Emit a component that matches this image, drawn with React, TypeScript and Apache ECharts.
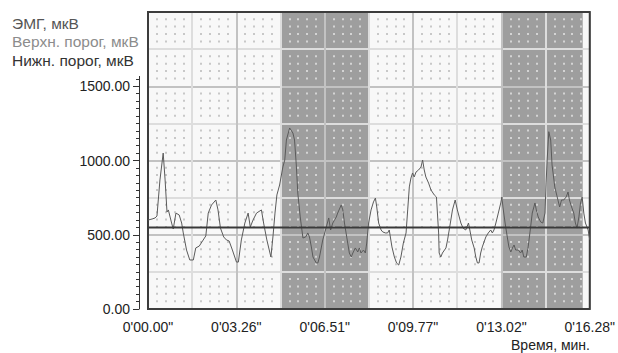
import React, { useEffect, useRef } from "react";
import * as echarts from "echarts";

// ---- data ----
const xTickLabels = ['0\'00.00"', '0\'03.26"', '0\'06.51"', '0\'09.77"', '0\'13.02"', '0\'16.28"'];
const xStep = 1.628; // grid column width, seconds
const xMax = 16.28;
const yMax = 2000;
const yLabelStep = 500;
const yGridStep = 250;
const lowerThreshold = 548;
// shaded epochs [start, end] in seconds
const bands: [number, number][] = [
  [4.884, 8.14],
  [13.02, 16.02],
];
const legendTitles = ["ЭМГ, мкВ", "Верхн. порог, мкВ", "Нижн. порог, мкВ"];
const xAxisTitle = "Время, мин.";

// EMG samples: [time s, µV]
const emgPoints: [number, number][] = [
  [0, 599], [0.15, 606], [0.26, 613], [0.33, 626], [0.44, 869], [0.56, 1050], [0.63, 869], [0.7, 653],
  [0.75, 667], [0.87, 579], [0.93, 539], [1.03, 646], [1.15, 633], [1.24, 579], [1.3, 512], [1.42, 397],
  [1.54, 330], [1.67, 330], [1.76, 411], [1.89, 424], [2.01, 458], [2.13, 492], [2.22, 646], [2.34, 700],
  [2.5, 734], [2.58, 667], [2.67, 545], [2.79, 485], [2.89, 465], [2.99, 458], [3.11, 397], [3.26, 316],
  [3.33, 316], [3.44, 465], [3.57, 579], [3.69, 646], [3.77, 552], [3.87, 599], [4.0, 646], [4.18, 667],
  [4.26, 579], [4.38, 465], [4.53, 350], [4.61, 498], [4.68, 646], [4.75, 768], [4.85, 835], [4.97, 956],
  [5.04, 1003], [5.1, 1138], [5.22, 1219], [5.34, 1185], [5.4, 1138], [5.47, 956], [5.52, 781], [5.61, 620],
  [5.71, 478], [5.81, 485], [5.89, 512], [5.95, 485], [6.02, 418], [6.08, 350], [6.2, 310], [6.26, 310],
  [6.32, 350], [6.44, 465], [6.57, 552], [6.66, 613], [6.73, 532], [6.81, 579], [6.94, 620], [6.99, 646],
  [7.12, 700], [7.18, 667], [7.24, 579], [7.3, 512], [7.36, 444], [7.42, 377], [7.49, 350], [7.55, 377],
  [7.64, 411], [7.73, 384], [7.79, 411], [7.85, 377], [7.94, 397], [8.01, 377], [8.06, 444], [8.13, 579],
  [8.22, 667], [8.31, 721], [8.38, 747], [8.43, 687], [8.5, 579], [8.59, 532], [8.65, 519], [8.75, 512],
  [8.83, 512], [8.89, 532], [8.99, 418], [9.08, 350], [9.16, 310], [9.24, 296], [9.32, 350], [9.41, 444],
  [9.51, 512], [9.57, 667], [9.63, 822], [9.69, 882], [9.75, 916], [9.81, 889], [9.88, 923], [9.97, 936],
  [10.06, 956], [10.12, 1003], [10.18, 936], [10.24, 889], [10.34, 848], [10.43, 801], [10.55, 768], [10.63, 754],
  [10.71, 512], [10.73, 377], [10.79, 350], [10.85, 377], [10.98, 411], [11.04, 465], [11.1, 532], [11.16, 599],
  [11.22, 667], [11.32, 734], [11.4, 667], [11.47, 620], [11.53, 579], [11.61, 545], [11.71, 532], [11.81, 579],
  [11.86, 532], [11.93, 465], [12.02, 411], [12.08, 350], [12.14, 310], [12.2, 310], [12.26, 377], [12.32, 418],
  [12.45, 485], [12.54, 512], [12.63, 532], [12.69, 512], [12.75, 532], [12.82, 579], [12.91, 646], [13.0, 714],
  [13.04, 754], [13.08, 687], [13.16, 579], [13.24, 485], [13.3, 418], [13.37, 384], [13.43, 411], [13.49, 431],
  [13.55, 397], [13.65, 397], [13.73, 377], [13.79, 397], [13.85, 350], [13.94, 350], [14.01, 418], [14.1, 552],
  [14.16, 646], [14.26, 714], [14.31, 667], [14.38, 620], [14.47, 586], [14.55, 579], [14.63, 646], [14.67, 849],
  [14.71, 1003], [14.77, 1194], [14.84, 1138], [14.89, 970], [14.96, 869], [14.99, 822], [15.08, 754], [15.17, 687],
  [15.24, 734], [15.32, 734], [15.41, 754], [15.48, 788], [15.53, 734], [15.61, 687], [15.69, 646], [15.75, 579],
  [15.81, 545], [15.88, 620], [15.94, 714], [16.0, 754], [16.06, 646], [16.12, 579], [16.22, 532], [16.28, 465],
];

// ---- styles ----
const FONT = "'Liberation Sans', Arial, Helvetica, sans-serif";
const LIGHT_BG = "#f8f8f8";
const DARK_BG = "#9e9e9e";
const MAJOR_LINE = "#c2c2c2";
const MINOR_LINE = "#dddddd";
const DOT_LIGHT = "#c8c8c8";
const DOT_DARK = "#d4d4d4";

export default function App() {
  const ref = useRef<HTMLDivElement | null>(null);

  useEffect(() => {
    if (!ref.current) return;
    const chart = echarts.init(ref.current, undefined, { renderer: "svg" });

    const dotCount = Math.round(xMax / (xStep / 5));
    const dotColors = Array.from({ length: dotCount }, (_, i) => {
      if (i % 5 === 0) return "rgba(0,0,0,0)";
      const mid = (Math.floor(i / 5) + 0.5) * xStep;
      return bands.some((b) => mid > b[0] && mid < b[1]) ? DOT_DARK : DOT_LIGHT;
    });

    const bandData = [[0, xMax, 0], ...bands.map((b) => [b[0], b[1], 1])];

    const option: any = {
      animation: false,
      backgroundColor: "#ffffff",
      grid: {
        left: 148,
        right: 27,
        top: 12,
        bottom: 44,
        show: true,
        z: 3,
        backgroundColor: "transparent",
        borderColor: "#3c3c3c",
        borderWidth: 2,
      },
      xAxis: [
        {
          type: "value",
          min: 0,
          max: xMax,
          interval: xStep,
          axisLine: { show: false },
          axisTick: { show: false },
          axisLabel: {
            fontSize: 14,
            fontFamily: FONT,
            color: "#222",
            margin: 11,
            formatter: (_v: number, idx: number) => (idx % 2 === 0 ? xTickLabels[idx / 2] ?? "" : ""),
          },
          splitLine: { show: true, lineStyle: { color: [MAJOR_LINE, MINOR_LINE], width: 2 } },
        },
        {
          type: "value",
          min: 0,
          max: xMax,
          interval: xStep / 5,
          axisLine: { show: false },
          axisTick: { show: false },
          axisLabel: { show: false },
          splitLine: {
            show: true,
            lineStyle: {
              color: dotColors,
              width: 2,
              type: [2, 5.425, 2, 5.425, 2, 5.425, 2, 12.85],
              dashOffset: 30.7,
            },
          },
        },
      ],
      yAxis: [
        {
          type: "value",
          min: 0,
          max: yMax,
          interval: yLabelStep,
          offset: 9,
          axisLine: { show: true, onZero: false, lineStyle: { color: "#333", width: 1 } },
          axisTick: { show: true, length: 6, lineStyle: { color: "#333" } },
          minorTick: { show: true, splitNumber: 10, length: 3, lineStyle: { color: "#333" } },
          axisLabel: {
            fontSize: 14,
            fontFamily: FONT,
            color: "#222",
            margin: 9,
            showMaxLabel: false,
            formatter: (v: number) => (v >= yMax ? "" : v.toFixed(2)),
          },
          splitLine: { show: false },
        },
        {
          type: "value",
          min: 0,
          max: yMax,
          interval: yGridStep,
          axisLine: { show: false, onZero: false },
          axisTick: { show: false },
          axisLabel: { show: false },
          splitLine: { show: true, lineStyle: { color: [MAJOR_LINE, MINOR_LINE], width: 2 } },
        },
      ],
      series: [
        {
          type: "custom",
          name: "bands",
          z: -1,
          silent: true,
          xAxisIndex: 0,
          yAxisIndex: 0,
          data: bandData,
          renderItem: (_p: any, api: any) => {
            const s = api.value(0);
            const e = api.value(1);
            const kind = api.value(2);
            const p0 = api.coord([s, yMax]);
            const p1 = api.coord([e, 0]);
            return {
              type: "rect",
              shape: { x: p0[0], y: p0[1], width: p1[0] - p0[0], height: p1[1] - p0[1] },
              style: { fill: kind ? DARK_BG : LIGHT_BG },
            };
          },
        },
        {
          type: "line",
          name: legendTitles[0],
          data: emgPoints,
          symbol: "none",
          silent: true,
          lineStyle: { color: "#5a5a5a", width: 1 },
        },
        {
          type: "line",
          name: legendTitles[2],
          data: [
            [0, lowerThreshold],
            [xMax, lowerThreshold],
          ],
          symbol: "none",
          silent: true,
          lineStyle: { color: "#3a3a3a", width: 2 },
        },
      ],
      graphic: [
        {
          type: "rect",
          z: 10,
          silent: true,
          shape: { x: 122, y: 0, width: 23, height: 76 },
          style: { fill: "#ffffff" },
        },
        ...legendTitles.map((t, i) => ({
          type: "text",
          z: 11,
          x: 12,
          y: 23.3 + i * 18.4,
          style: {
            text: t,
            fill: ["#555555", "#8c8c8c", "#333333"][i],
            fontSize: 15.5,
            fontFamily: FONT,
            verticalAlign: "middle",
            align: "left",
          },
        })),
        {
          type: "text",
          z: 11,
          x: 590,
          y: 345,
          style: {
            text: xAxisTitle,
            fill: "#222",
            fontSize: 14,
            fontFamily: FONT,
            verticalAlign: "middle",
            align: "right",
          },
        },
      ],
    };

    chart.setOption(option);
    return () => chart.dispose();
  }, []);

  return (
    <div
      ref={ref}
      style={{ position: "fixed", left: 0, top: 0, width: 618, height: 353, background: "#fff" }}
    />
  );
}
